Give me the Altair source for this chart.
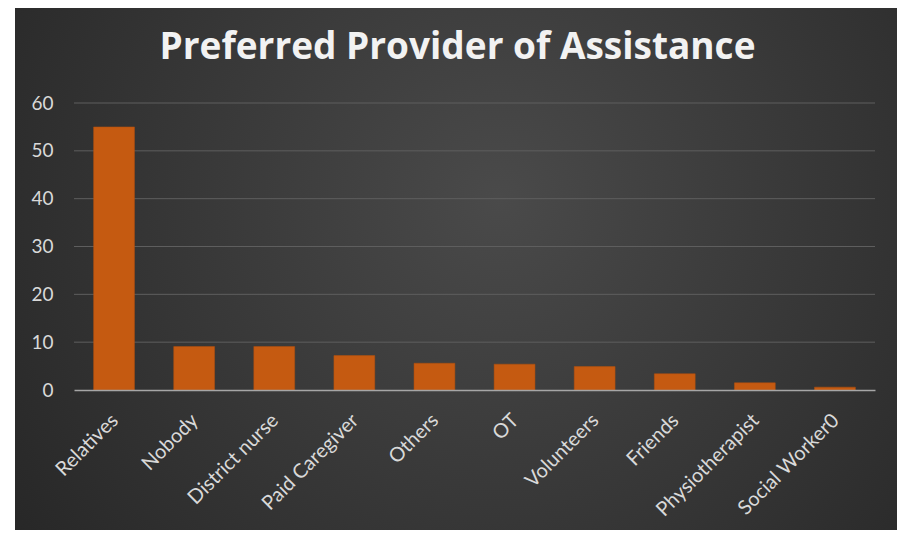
import altair as alt
import pandas as pd

categories = ["Relatives", "Nobody", "District nurse", "Paid Caregiver", "Others",
              "OT", "Volunteers", "Friends", "Physiotherapist", "Social Worker0"]
values = [55, 9.1, 9.1, 7.2, 5.6, 5.4, 4.9, 3.4, 1.5, 0.6]
y_ticks = [0, 10, 20, 30, 40, 50, 60]
title_text = "Preferred Provider of Assistance"

df = pd.DataFrame({"provider": categories, "value": values})
grid_df = pd.DataFrame({"v": y_ticks[1:]})

W, H = 801, 287
PL, PT, PR, PB = 66, 95, 22, 140
FONT = "Lato"

y_scale = alt.Scale(domain=[0, 60], nice=False)
y_axis = alt.Axis(title=None, values=y_ticks, ticks=False, domain=False,
                  labelFont=FONT, labelFontSize=19, labelColor="#d9d9d9",
                  labelPadding=21, grid=False, zindex=1)

bg = alt.Chart(pd.DataFrame({"k": [0]})).mark_rect(
    fill=alt.RadialGradient(
        gradient="radial",
        x1=0.55, y1=0.42, r1=0.0,
        x2=0.55, y2=0.42, r2=0.75,
        stops=[alt.GradientStop(offset=0, color="#4a4a4a"),
               alt.GradientStop(offset=1, color="#232323")],
    ),
).encode(
    x=alt.value(-59), x2=alt.value(W + PR),
    y=alt.value(-PT), y2=alt.value(H + PB),
)

grid = alt.Chart(grid_df).mark_rule(color="#5e5e5e", strokeWidth=1).encode(
    y=alt.Y("v:Q", scale=y_scale, axis=y_axis),
)

bars = alt.Chart(df).mark_bar(color="#C55A11", stroke="#b2500f", strokeWidth=0.5).encode(
    x=alt.X("provider:N", sort=None,
            scale=alt.Scale(paddingInner=0.49, paddingOuter=0.245),
            axis=alt.Axis(title=None, labelAngle=315, labelAlign="right",
                          labelBaseline="middle", labelOffset=1, labelPadding=27,
                          ticks=False, domainColor="#a6a6a6", domainWidth=1.5,
                          labelFont=FONT, labelFontSize=20, labelColor="#d9d9d9",
                          grid=False, zindex=1)),
    y=alt.Y("value:Q", scale=y_scale, axis=y_axis),
)

chart = alt.layer(bg, grid, bars).properties(
    width=W, height=H,
    padding={"left": PL, "top": PT, "right": PR, "bottom": PB},
    autosize=alt.AutoSizeParams(type="none"),
    background="white",
    title=alt.TitleParams(text=title_text, anchor="middle", frame="group", dx=-17,
                          offset=-88, baseline="alphabetic",
                          font="Open Sans", fontSize=37, fontWeight="bold", color="#f2f2f2"),
).configure_view(stroke=None)

chart.save("out.html", embed_options={"renderer": "svg", "actions": False})
